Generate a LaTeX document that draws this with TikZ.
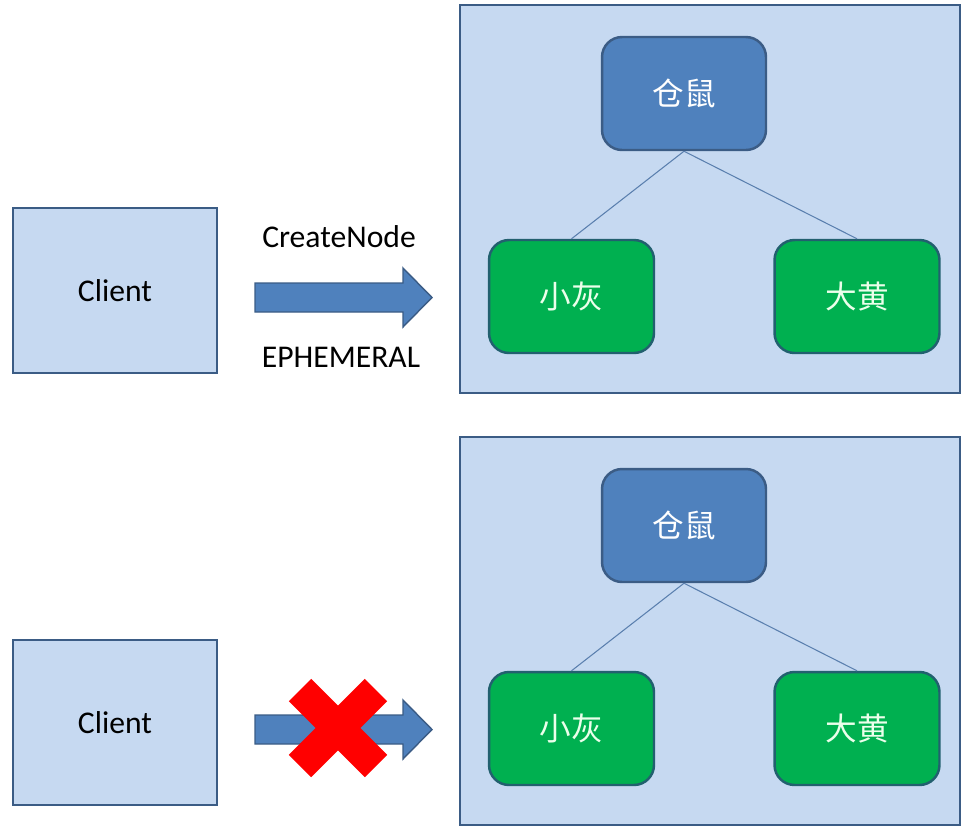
\documentclass[tikz,border=0pt]{standalone}
\usepackage{fontspec}
\setmainfont{Carlito}
\newfontfamily\cjk{Noto Sans CJK SC}
\definecolor{paleblue}{HTML}{C6D9F1}
\definecolor{edgeblue}{HTML}{3B5C85}
\definecolor{midblue}{HTML}{4F81BD}
\definecolor{leafgreen}{HTML}{00B050}
\definecolor{leafedge}{HTML}{22606F}
\definecolor{treeline}{HTML}{5A7FAE}
\tikzset{
  panel/.style={rectangle, draw=edgeblue, fill=paleblue, line width=1.6pt, minimum width=10cm, minimum height=7.76cm},
  clientbox/.style={rectangle, draw=edgeblue, fill=paleblue, line width=1.6pt, minimum width=4.08cm, minimum height=3.3cm, font=\fontsize{18}{22}\selectfont},
  rootbox/.style={rectangle, rounded corners=0.4cm, draw=edgeblue, fill=midblue, line width=1.4pt, minimum width=3.28cm, minimum height=2.26cm, text=white, font=\cjk\fontsize{18}{22}\selectfont},
  leafbox/.style={rectangle, rounded corners=0.4cm, draw=leafedge, fill=leafgreen, line width=1.4pt, minimum width=3.3cm, minimum height=2.26cm, text=green!8!white, font=\cjk\fontsize{18}{22}\selectfont},
  branch/.style={draw=treeline, line width=0.6pt},
  blockarrow/.style={draw=edgeblue, fill=midblue, line width=0.8pt},
  crossmark/.style={draw=red, line width=18pt},
  caption/.style={font=\fontsize{18}{22}\selectfont}
}
\begin{document}
\begin{tikzpicture}[x=0.02cm, y=-0.02cm]
  \useasboundingbox (0,0) rectangle (967,829);

  % top: node is created
  \node[panel] (PA) at (710,199) {};
  \node[clientbox] (CA) at (115,290.5) {Client};
  \node[rootbox] (RA) at (684,93.5) {仓鼠};
  \node[leafbox] (GA) at (571.5,296.5) {小灰};
  \node[leafbox] (YA) at (857,296.5) {大黄};
  \draw[branch] (RA.south)--(GA.north);
  \draw[branch] (RA.south)--(YA.north);
  \draw[blockarrow] (255,283) -- (403,283) -- (403,268) -- (432,297.5) -- (403,327) -- (403,312) -- (255,312) -- cycle;
  \node[caption] (TA) at (339,237) {CreateNode};
  \node[caption] (TB) at (341,357) {EPHEMERAL};

  % bottom: client gone
  \node[panel] (PB) at (710,631) {};
  \node[clientbox] (CB) at (115,722.5) {Client};
  \node[rootbox] (RB) at (684,525.5) {仓鼠};
  \node[leafbox] (GB) at (571.5,728.5) {小灰};
  \node[leafbox] (YB) at (857,728.5) {大黄};
  \draw[branch] (RB.south)--(GB.north);
  \draw[branch] (RB.south)--(YB.north);
  \draw[blockarrow] (255,715) -- (403,715) -- (403,700) -- (432,729.5) -- (403,759) -- (403,744) -- (255,744) -- cycle;
  \draw[crossmark] (300,690)--(376,766);
  \draw[crossmark] (376,690)--(300,766);
\end{tikzpicture}
\end{document}
